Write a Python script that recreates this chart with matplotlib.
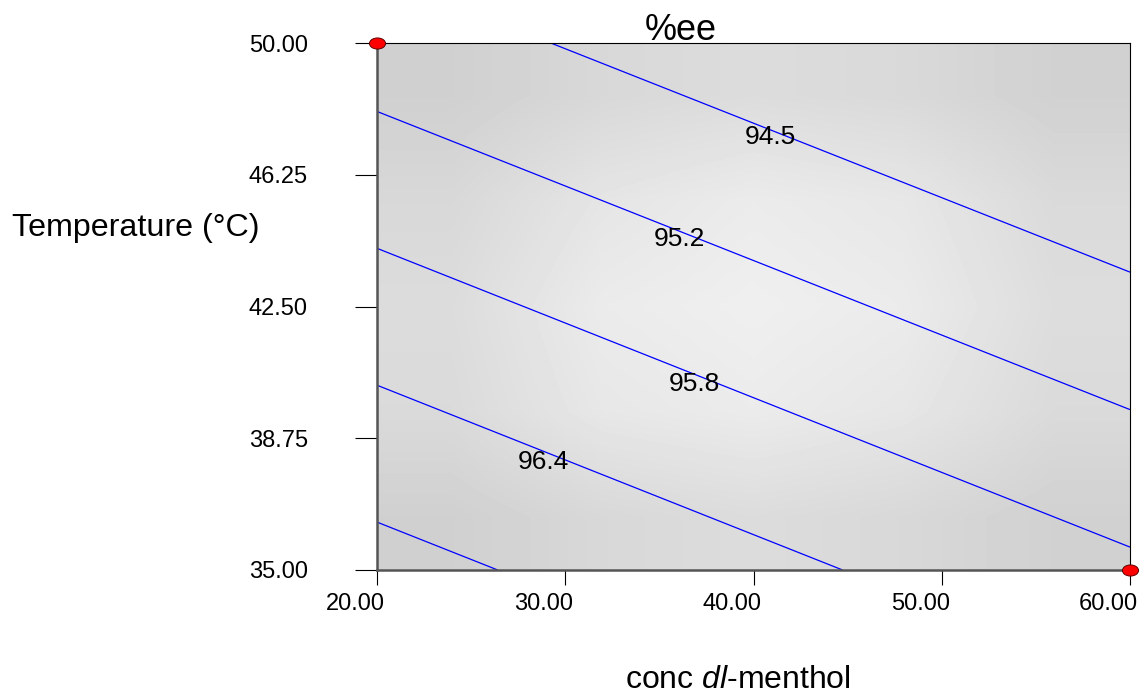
import numpy as np
import matplotlib
matplotlib.use('Agg')
import matplotlib.pyplot as plt
from matplotlib.markers import MarkerStyle
from matplotlib.transforms import Affine2D, ScaledTranslation

plt.rcParams['font.family'] = ['Liberation Sans', 'DejaVu Sans']
plt.rcParams['mathtext.fontset'] = 'custom'
plt.rcParams['mathtext.rm'] = 'Liberation Sans'
plt.rcParams['mathtext.it'] = 'Liberation Sans:italic'

# ---- data ----
conc = [20.0, 60.0]                 # conc dl-menthol (x)
temp = [35.0, 50.0]                 # Temperature (y)
ee = [[97.21, 95.90],               # %ee at (temp=35, conc=20/60)
      [94.90, 93.60]]               # %ee at (temp=50, conc=20/60)
levels = [94.6, 95.2, 95.8, 96.4, 97.0]
label_text = ['94.5', '95.2', '95.8', '96.4']
label_conc = [40.88, 36.04, 36.84, 28.82]
label_temp = [47.32, 44.41, 40.30, 38.08]
design_conc = [20.0, 60.0]
design_temp = [50.0, 35.0]
xticks = [20.0, 30.0, 40.0, 50.0, 60.0]
yticks = [35.0, 38.75, 42.5, 46.25, 50.0]
# background shading (grey levels, rows from top temp=50 to bottom temp=35)
shade = [[208, 216, 220, 217, 209],
         [216, 229, 235, 231, 218],
         [220, 235, 239, 235, 221],
         [218, 231, 235, 230, 218],
         [208, 216, 220, 216, 209]]

fig = plt.figure(figsize=(11.44, 6.97), dpi=100)
ax = fig.add_axes([377/1144, 1-570/697, (1130-377)/1144, (570-43)/697])

ax.imshow(np.array(shade, dtype=float), cmap='gray', vmin=0, vmax=255,
          extent=[conc[0], conc[1], temp[0], temp[1]], origin='upper',
          aspect='auto', interpolation='bilinear', zorder=0)

X, Y = np.meshgrid(conc, temp)
ax.contour(X, Y, np.array(ee), levels=levels, colors='#0000ff',
           linewidths=0.9, zorder=2)

for t, cx, ty in zip(label_text, label_conc, label_temp):
    ax.text(cx, ty, t, fontsize=19, ha='center', va='center', color='black',
            zorder=3)

ell = MarkerStyle('o', transform=Affine2D().scale(1.45, 1.0))
ax.plot(design_conc, design_temp, linestyle='none', marker=ell,
        markersize=8, markerfacecolor='#ff0000', markeredgecolor='#600000',
        markeredgewidth=0.7, clip_on=False, zorder=5)

ax.set_xlim(conc[0], conc[1])
ax.set_ylim(temp[0], temp[1])
ax.set_xticks(xticks)
ax.set_xticklabels([f'{v:.2f}' for v in xticks])
ax.set_yticks(yticks)
ax.set_yticklabels([f'{v:.2f}' for v in yticks])
ax.tick_params(axis='y', length=15.8, width=0.8, pad=34, labelsize=17,
               direction='out', color='black')
ax.tick_params(axis='x', length=10.8, width=0.8, pad=6, labelsize=17,
               direction='out', color='black')

# x tick labels end slightly right of their tick (right-aligned look)
for lab in ax.get_xticklabels():
    lab.set_horizontalalignment('right')
    lab.set_transform(lab.get_transform() +
                      ScaledTranslation(8/100, 0, fig.dpi_scale_trans))

for s in ['left', 'bottom']:
    ax.spines[s].set_color('#555555')
    ax.spines[s].set_linewidth(1.8)
for s in ['top', 'right']:
    ax.spines[s].set_color('black')
    ax.spines[s].set_linewidth(0.8)

fig.text(681/1144, 1-40/697, '%ee', fontsize=26, ha='center', va='baseline')
fig.text(12/1144, 1-228/697, 'Temperature (°C)', fontsize=23.2,
         ha='left', va='center')
fig.text(738/1144, 1-688/697, r'conc $\mathit{dl}$-menthol', fontsize=23,
         ha='center', va='baseline')

fig.savefig('out.png', dpi=100)
